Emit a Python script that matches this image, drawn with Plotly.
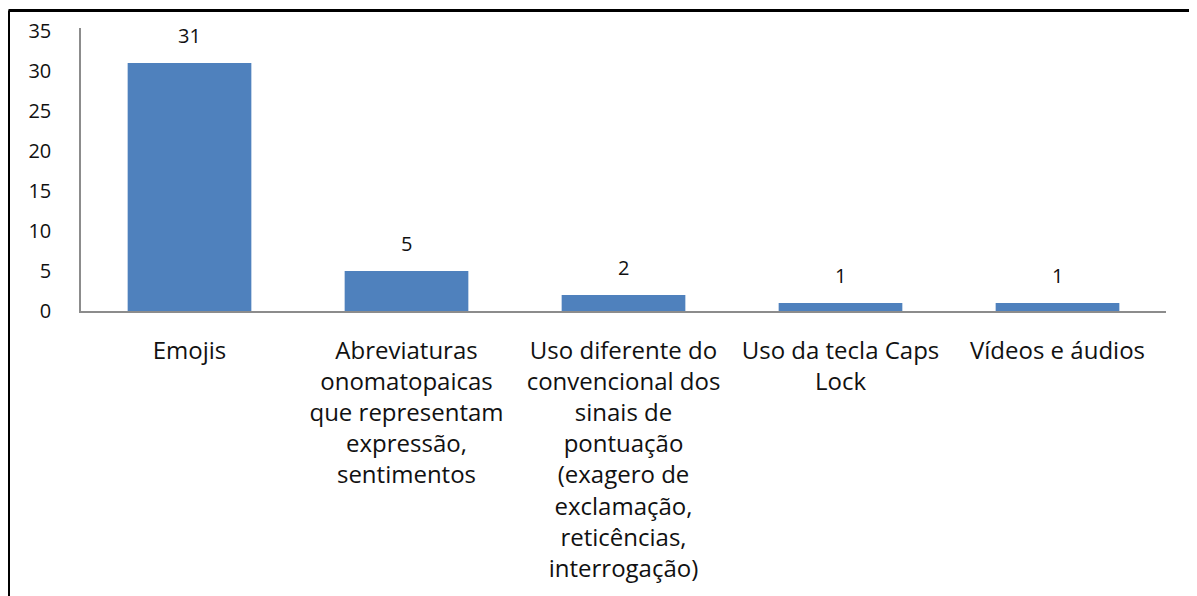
import plotly.graph_objects as go

categories = [
    "Emojis",
    "Abreviaturas<br>onomatopaicas<br>que representam<br>expressão,<br>sentimentos",
    "Uso diferente do<br>convencional dos<br>sinais de<br>pontuação<br>(exagero de<br>exclamação,<br>reticências,<br>interrogação)",
    "Uso da tecla Caps<br>Lock",
    "Vídeos e áudios",
]
values = [31, 5, 2, 1, 1]
y_ticks = [0, 5, 10, 15, 20, 25, 30, 35]

BAR_COLOR = "#4F81BD"
FONT = "Open Sans"
TEXT_COLOR = "#111111"

fig = go.Figure()
fig.add_trace(go.Bar(
    x=categories,
    y=values,
    marker=dict(color=BAR_COLOR, line=dict(width=0)),
    width=0.57,
    hoverinfo="x+y",
))

for c, v in zip(categories, values):
    fig.add_annotation(
        x=c, y=v, text=str(v), showarrow=False,
        yanchor="bottom", yshift=12,
        font=dict(family=FONT, size=20, color=TEXT_COLOR),
    )

# page body has an 8px margin; figure coordinates are screen - 8
W, H = 1197, 596
OFF = 8
ml, mr, mt, mb = 81 - OFF, 39, 28 - OFF, 293
pw, ph = W - ml - mr, H - mt - mb

def px_x(x):
    return (x - OFF - ml) / pw

def px_y(y):
    return (H - mb - (y - OFF)) / ph

fig.add_shape(type="line", xref="paper", yref="paper",
              x0=px_x(8.5), x1=px_x(1197), y0=px_y(10.5), y1=px_y(10.5),
              line=dict(color="black", width=3))
fig.add_shape(type="line", xref="paper", yref="paper",
              x0=px_x(8.5), x1=px_x(8.5), y0=px_y(10.5), y1=px_y(610),
              line=dict(color="black", width=3))
fig.add_shape(type="line", xref="paper", yref="paper",
              x0=px_x(1196), x1=px_x(1196), y0=px_y(10.5), y1=px_y(610),
              line=dict(color="#c8c8c8", width=1.5))

fig.update_layout(
    width=W, height=H,
    margin=dict(l=ml, r=mr, t=mt, b=mb, autoexpand=False),
    paper_bgcolor="white",
    plot_bgcolor="white",
    showlegend=False,
    bargap=0.43,
    font=dict(family=FONT, color=TEXT_COLOR),
)
fig.update_xaxes(
    automargin=False,
    showline=True, linecolor="#8c8c8c", linewidth=1.5,
    showgrid=False, ticks="",
    tickfont=dict(family=FONT, size=24, color=TEXT_COLOR),
    ticklabelstandoff=17,
    tickangle=0,
)
fig.update_yaxes(
    automargin=False,
    range=[0, 35.375],
    tickvals=y_ticks,
    showline=True, linecolor="#8c8c8c", linewidth=1.5,
    showgrid=False, zeroline=False, ticks="",
    tickfont=dict(family=FONT, size=20, color=TEXT_COLOR),
    ticklabelstandoff=24,
)

fig.write_html("out.html")
